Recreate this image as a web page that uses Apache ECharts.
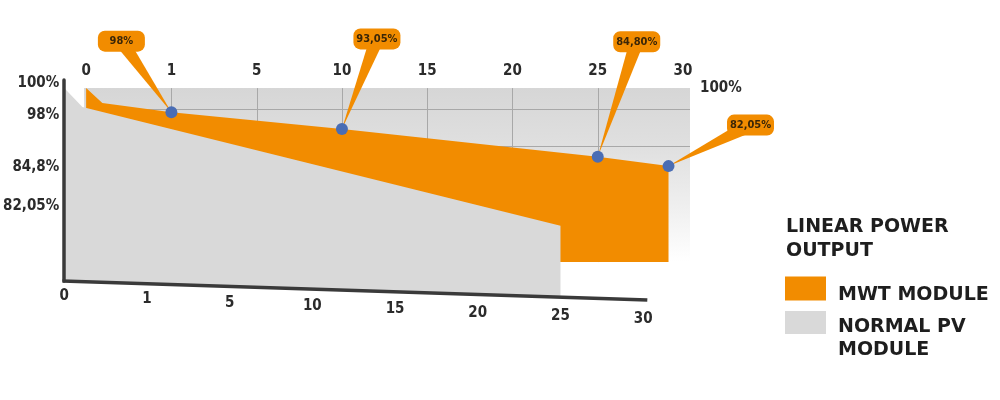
<!DOCTYPE html>
<html><head><meta charset="utf-8">
<script src="https://cdn.jsdelivr.net/npm/echarts@6/dist/echarts.min.js"></script>
<style>html,body{margin:0;padding:0;background:#fff}#c{width:1000px;height:400px}</style>
</head><body><div id="c"></div>
<script>
// ---------------- data ----------------
const yearLabels = ['0', '1', '5', '10', '15', '20', '25', '30'];   // tick labels (top & bottom axes)
const tickSlots = [0, 1, 2, 3, 4, 5, 6, 7];                          // evenly spaced tick slots
const yTickLabels = ['100%', '98%', '84,8%', '82,05%'];
const yTickPos = [106.6, 97.2, 81.8, 70.3];
const rightTickLabel = '100%';
const rightTickPos = 105.1;

// MWT module (back layer, top axis)
const mwtSlots = [0, 0.19, 1, 3, 6, 6.83];
const mwtValues = [105.1, 100.7, 98, 93.05, 84.8, 82.05];
const mwtBase = 53.7;

// callouts on MWT points
const calloutIdx = [2, 3, 4, 5];
const calloutLabels = ['98%', '93,05%', '84,80%', '82,05%'];

// Normal PV module (front layer, bottom axis)
const pvSlots = [0, 0.22, 6];
const pvValues = [105.1, 99.5, 64.4];

// skewed bottom axis line
const baseSlots = [0, 7.05];
const baseValues = [48.1, 42.5];

// ---------------- layout / style ----------------
const ORANGE = '#f28c00', GRAY = '#d9d9d9', DARK = '#2b2b2b';
const NUM_FONT = "'Liberation Sans Narrow','DejaVu Sans Condensed',sans-serif";
const LEG_FONT = "'DejaVu Sans',sans-serif";
const calloutOffsets = [[-50, -71], [35, -90], [39, -115], [82, -41]];
const bandLevels = [98.9, 87.85];
const labelSkewStep = 3.3;

function baseAt(s) {
  return baseValues[0] + (s - baseSlots[0]) / (baseSlots[1] - baseSlots[0]) * (baseValues[1] - baseValues[0]);
}

const bottomRich = {};
tickSlots.forEach((s, i) => {
  bottomRich['s' + i] = { padding: [Math.round(i * labelSkewStep), 0, 0, 0], fontSize: 15, fontWeight: 'bold', fontFamily: NUM_FONT, color: DARK };
});

const legText = { fontSize: 19, fontWeight: 'bold', fontFamily: LEG_FONT, lineHeight: 23, color: '#1e1e1e' };

const chart = echarts.init(document.getElementById('c'), null, { renderer: 'canvas' });

const option = {
  animation: false,
  backgroundColor: '#fff',
  title: {
    text: 'LINEAR POWER\nOUTPUT',
    left: 786, top: 215, padding: 0,
    textStyle: { fontSize: 19, fontWeight: 'bold', fontFamily: LEG_FONT, lineHeight: 24, color: '#1e1e1e' }
  },
  legend: [
    {
      data: [{ name: 'MWT MODULE', itemStyle: { color: ORANGE } }],
      formatter: n => '{a|' + n + '}',
      left: 785, top: 272, padding: 0, itemGap: 0,
      itemWidth: 41, itemHeight: 24, icon: 'rect', selectedMode: false,
      textStyle: Object.assign({}, legText, { rich: { a: Object.assign({ padding: [14, 0, 0, 7] }, legText) } })
    },
    {
      data: [{ name: 'NORMAL PV MODULE', itemStyle: { color: GRAY } }],
      formatter: n => n.split('PV ').map((s, i) => '{b|' + (i === 0 ? s + 'PV' : s) + '}').join('\n'),
      left: 785, top: 285.5, padding: 0, itemGap: 0,
      itemWidth: 41, itemHeight: 23, icon: 'rect', selectedMode: false,
      textStyle: Object.assign({}, legText, { rich: { b: Object.assign({ padding: [32, 0, 0, 7] }, legText) } })
    }
  ],
  grid: { left: 62, right: 310, top: 80, bottom: 119, containLabel: false },
  xAxis: [
    {
      type: 'value', position: 'top', min: -0.257, max: 7.082,
      axisLine: { show: false }, axisTick: { show: false }, splitLine: { show: false },
      axisLabel: {
        customValues: tickSlots, margin: 1,
        formatter: v => yearLabels[Math.round(v)],
        fontSize: 15, fontWeight: 'bold', fontFamily: NUM_FONT, color: DARK
      }
    },
    {
      type: 'value', position: 'bottom', min: 0, max: 7.566,
      axisLine: { show: false }, axisTick: { show: false }, splitLine: { show: false },
      axisLabel: {
        customValues: tickSlots, margin: 8,
        formatter: v => '{s' + Math.round(v) + '|' + yearLabels[Math.round(v)] + '}',
        rich: bottomRich
      }
    }
  ],
  yAxis: [
    {
      type: 'value', min: 48.1, max: 107.5, position: 'left', z: 5,
      axisLine: { show: true, onZero: false, lineStyle: { color: '#3a3a3a', width: 3.5 } },
      axisTick: { show: false }, splitLine: { show: false },
      axisLabel: {
        customValues: yTickPos, margin: 5,
        formatter: v => { let k = 0; yTickPos.forEach((p, i) => { if (Math.abs(p - v) < Math.abs(yTickPos[k] - v)) k = i; }); return yTickLabels[k]; },
        fontSize: 15, fontWeight: 'bold', fontFamily: NUM_FONT, color: DARK
      }
    },
    {
      type: 'value', min: 48.1, max: 107.5, position: 'right',
      axisLine: { show: false, onZero: false }, axisTick: { show: false }, splitLine: { show: false },
      axisLabel: {
        customValues: [rightTickPos], margin: 10,
        formatter: () => rightTickLabel,
        fontSize: 15, fontWeight: 'bold', fontFamily: NUM_FONT, color: DARK
      }
    }
  ],
  series: [
    { // background band with grid lines
      type: 'custom', name: 'band', silent: true, xAxisIndex: 0, yAxisIndex: 0,
      clip: false, data: [[0, mwtValues[0]]],
      renderItem: function (params, api) {
        const cs = params.coordSys;
        const tl = api.coord([0, mwtValues[0]]);
        const bl = api.coord([0, mwtBase]);
        const right = cs.x + cs.width;
        const children = [{
          type: 'rect',
          shape: { x: tl[0] - 2, y: tl[1], width: right - tl[0] + 2, height: bl[1] - tl[1] },
          style: {
            fill: new echarts.graphic.LinearGradient(0, 0, 0, 1, [
              { offset: 0, color: '#d6d6d6' }, { offset: 0.35, color: '#e0e0e0' },
              { offset: 0.7, color: '#f0f0f0' }, { offset: 1, color: '#ffffff' }])
          }
        }];
        tickSlots.slice(1, 7).forEach(s => {
          const x = Math.round(api.coord([s, 0])[0]) + 0.5;
          children.push({ type: 'line', shape: { x1: x, y1: tl[1], x2: x, y2: bl[1] }, style: { stroke: '#a8a8a8', lineWidth: 1 } });
        });
        bandLevels.forEach(v => {
          const y = Math.round(api.coord([0, v])[1]) + 0.5;
          children.push({ type: 'line', shape: { x1: tl[0] - 2, y1: y, x2: right, y2: y }, style: { stroke: '#a8a8a8', lineWidth: 1 } });
        });
        return { type: 'group', children };
      }
    },
    { // MWT module area
      type: 'custom', name: 'MWT MODULE', xAxisIndex: 0, yAxisIndex: 0, clip: false,
      itemStyle: { color: ORANGE },
      data: [[mwtSlots[0], mwtValues[0]]],
      renderItem: function (params, api) {
        const pts = mwtSlots.map((s, i) => api.coord([s, mwtValues[i]]));
        pts.push(api.coord([mwtSlots[mwtSlots.length - 1], mwtBase]));
        pts.push(api.coord([mwtSlots[0], mwtBase]));
        return { type: 'polygon', shape: { points: pts }, style: { fill: ORANGE } };
      }
    },
    { // Normal PV module area
      type: 'custom', name: 'NORMAL PV MODULE', xAxisIndex: 1, yAxisIndex: 0, clip: false,
      itemStyle: { color: GRAY },
      data: [[pvSlots[0], pvValues[0]]],
      renderItem: function (params, api) {
        const pts = pvSlots.map((s, i) => api.coord([s, pvValues[i]]));
        const last = pvSlots[pvSlots.length - 1];
        pts.push(api.coord([last, baseAt(last)]));
        pts.push(api.coord([pvSlots[0], baseAt(pvSlots[0])]));
        return { type: 'polygon', shape: { points: pts }, style: { fill: GRAY } };
      }
    },
    { // skewed bottom axis line
      type: 'custom', name: 'axis', silent: true, xAxisIndex: 1, yAxisIndex: 0, clip: false, z: 5,
      data: [[baseSlots[0], baseValues[0]]],
      renderItem: function (params, api) {
        const a = api.coord([baseSlots[0], baseValues[0]]);
        const b = api.coord([baseSlots[1], baseValues[1]]);
        return { type: 'line', shape: { x1: a[0] - 1.75, y1: a[1], x2: b[0], y2: b[1] }, style: { stroke: '#3a3a3a', lineWidth: 3.5 } };
      }
    },
    { // callouts + dots
      type: 'custom', name: 'callouts', silent: true, xAxisIndex: 0, yAxisIndex: 0, clip: false, z: 6,
      data: calloutIdx.map(i => [mwtSlots[i], mwtValues[i]]),
      renderItem: function (params, api) {
        const p = api.coord([api.value(0), api.value(1)]);
        const off = calloutOffsets[params.dataIndex];
        const c = [p[0] + off[0], p[1] + off[1]];
        const dx = c[0] - p[0], dy = c[1] - p[1], len = Math.hypot(dx, dy);
        const nx = -dy / len * 7, ny = dx / len * 7;
        const w = 47, h = 21;
        return {
          type: 'group', children: [
            { type: 'polygon', shape: { points: [[p[0], p[1]], [c[0] + nx, c[1] + ny], [c[0] - nx, c[1] - ny]] }, style: { fill: ORANGE } },
            { type: 'rect', shape: { x: c[0] - w / 2, y: c[1] - h / 2, width: w, height: h, r: 7 }, style: { fill: ORANGE } },
            { type: 'text', x: c[0], y: c[1], style: { text: calloutLabels[params.dataIndex], align: 'center', verticalAlign: 'middle', fontSize: 11, fontWeight: 'bold', fontFamily: NUM_FONT, fill: '#3b2607' } },
            { type: 'circle', shape: { cx: p[0], cy: p[1], r: 6 }, style: { fill: '#4a6db4' } }
          ]
        };
      }
    }
  ]
};
chart.setOption(option);
</script>
</body></html>
